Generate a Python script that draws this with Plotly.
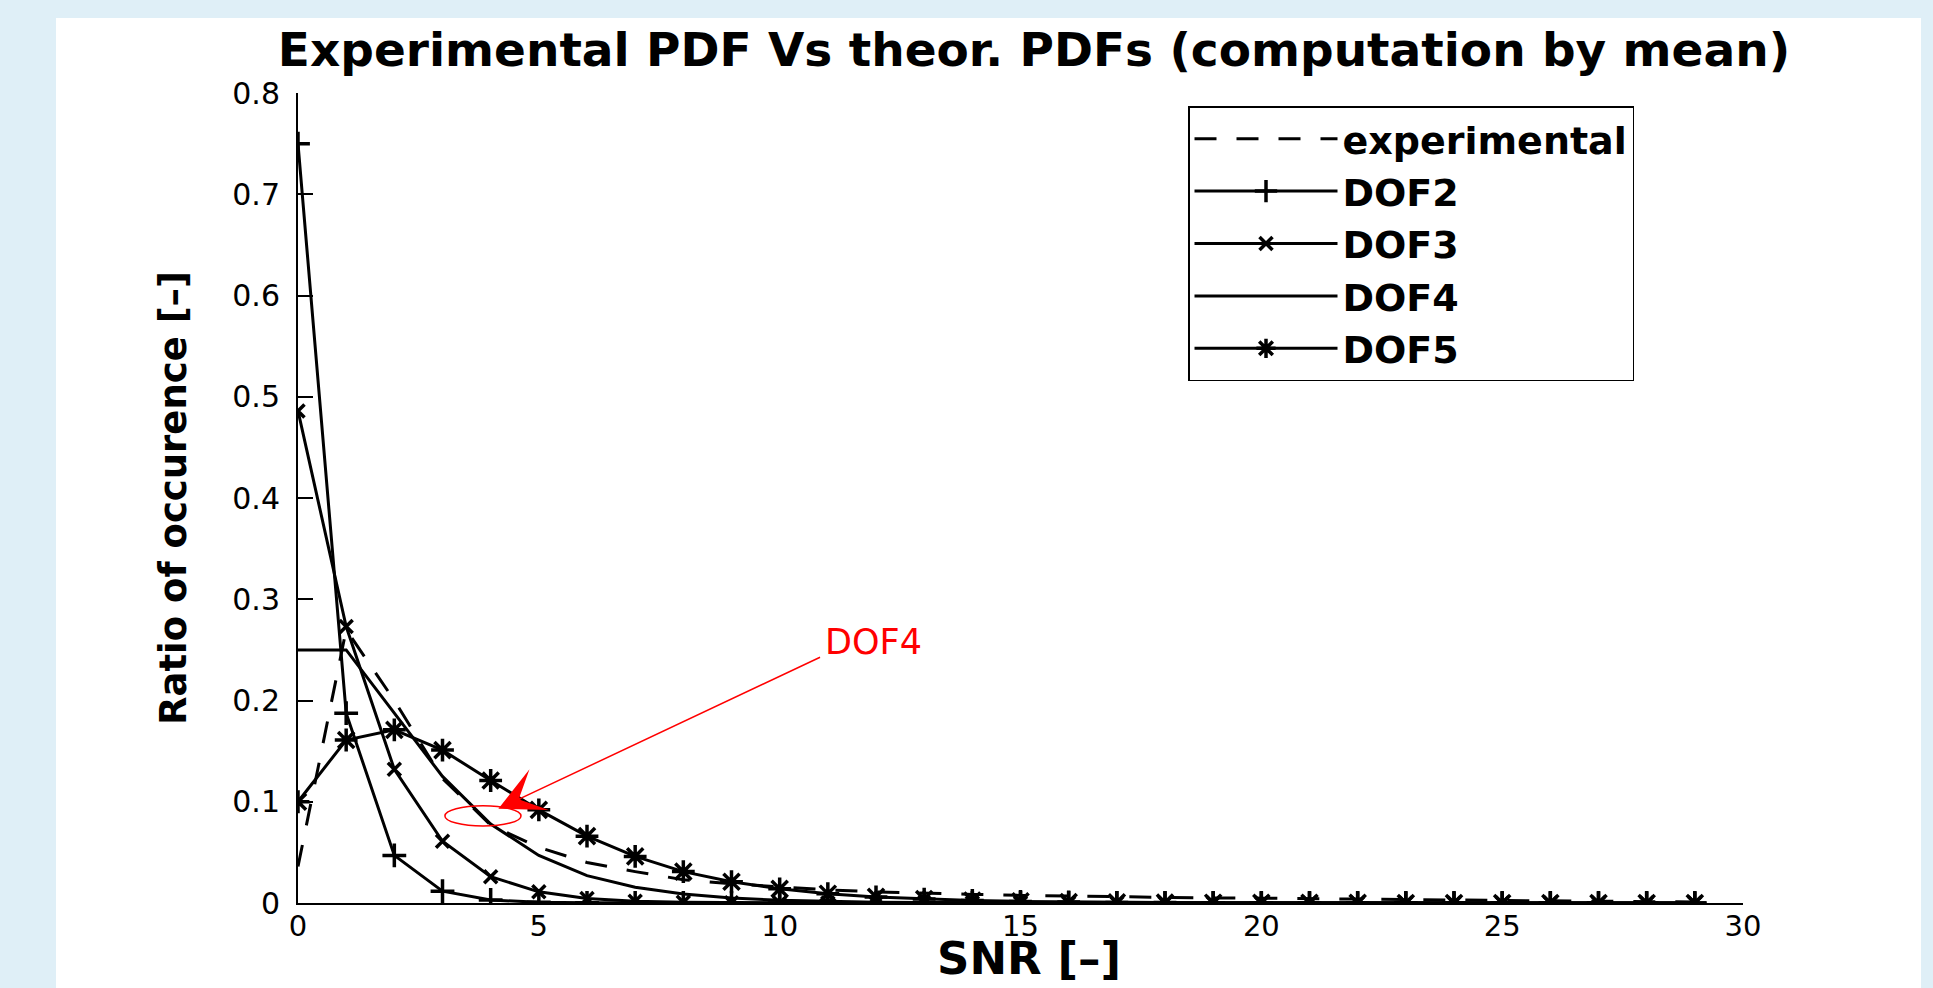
import plotly.graph_objects as go

# ---------------- data ----------------
snr = [0, 1, 2, 3, 4, 5, 6, 7, 8, 9, 10, 11, 12, 13, 14,
       15, 16, 17, 18, 19, 20, 21, 22, 23, 24, 25, 26, 27, 28, 29]

experimental = [0.036, 0.270, 0.200, 0.123, 0.077, 0.055, 0.040, 0.031, 0.023, 0.019,
                0.016, 0.013, 0.011, 0.0095, 0.0085, 0.0075, 0.0068, 0.0060, 0.0055, 0.0050,
                0.0048, 0.0045, 0.0040, 0.0035, 0.0030, 0.0025, 0.0020, 0.0015, 0.0010, 0.0010]

dof2 = [0.750, 0.1875, 0.047, 0.0117, 0.0030, 0.0007, 0.0002, 0.0, 0.0, 0.0,
        0.0, 0.0, 0.0, 0.0, 0.0, 0.0, 0.0, 0.0, 0.0, 0.0,
        0.0, 0.0, 0.0, 0.0, 0.0, 0.0, 0.0, 0.0, 0.0, 0.0]

dof3 = [0.486, 0.273, 0.132, 0.061, 0.026, 0.011, 0.0045, 0.0018, 0.0007, 0.0003,
        0.0001, 0.0, 0.0, 0.0, 0.0, 0.0, 0.0, 0.0, 0.0, 0.0,
        0.0, 0.0, 0.0, 0.0, 0.0, 0.0, 0.0, 0.0, 0.0, 0.0]

dof4 = [0.250, 0.250, 0.1875, 0.125, 0.078, 0.047, 0.027, 0.0156, 0.0088, 0.0049,
        0.0027, 0.0015, 0.0008, 0.0004, 0.0002, 0.0001, 0.0, 0.0, 0.0, 0.0,
        0.0, 0.0, 0.0, 0.0, 0.0, 0.0, 0.0, 0.0, 0.0, 0.0]

dof5 = [0.100, 0.161, 0.171, 0.151, 0.121, 0.092, 0.066, 0.046, 0.031, 0.021,
        0.014, 0.0092, 0.0060, 0.0039, 0.0025, 0.0016, 0.0010, 0.0006, 0.0004, 0.0003,
        0.0002, 0.0001, 0.0001, 0.0, 0.0, 0.0, 0.0, 0.0, 0.0, 0.0]

x_ticks = [0, 5, 10, 15, 20, 25, 30]
x_tick_text = ["0", "5", "10", "15", "20", "25", "30"]
y_ticks = [0, 0.1, 0.2, 0.3, 0.4, 0.5, 0.6, 0.7, 0.8]
y_tick_text = ["0", "0.1", "0.2", "0.3", "0.4", "0.5", "0.6", "0.7", "0.8"]

title_text = "Experimental PDF Vs theor. PDFs (computation by mean)"
x_title = "SNR [\u2013]"
y_title = "Ratio of occurence [\u2013]"

# annotation (ellipse around DOF4 curve + arrow + label)
ellipse_box = dict(x0=3.05, x1=4.63, y0=0.076, y1=0.096)
arrow_head = (4.16, 0.093)
arrow_tail = (10.87, 0.2434)
label_pos = (10.9, 0.258)

# ---------------- figure ----------------
FONT = "DejaVu Sans"
W, H = 1933, 988
L, R, T, B = 298, 190, 93, 85
pw, ph = W - L - R, H - T - B

fig = go.Figure()

line_w = 3
mk_w = 3.5
fig.add_trace(go.Scatter(
    x=snr, y=experimental, name="experimental", mode="lines",
    line=dict(color="black", width=line_w, dash="22px,20px")))
fig.add_trace(go.Scatter(
    x=snr, y=dof2, name="DOF2", mode="lines+markers",
    line=dict(color="black", width=line_w),
    marker=dict(symbol="cross-thin-open", size=17, color="black",
                line=dict(color="black", width=mk_w))))
fig.add_trace(go.Scatter(
    x=snr, y=dof3, name="DOF3", mode="lines+markers",
    line=dict(color="black", width=line_w),
    marker=dict(symbol="x-thin-open", size=13, color="black",
                line=dict(color="black", width=mk_w))))
fig.add_trace(go.Scatter(
    x=snr, y=dof4, name="DOF4", mode="lines",
    line=dict(color="black", width=line_w)))
fig.add_trace(go.Scatter(
    x=snr, y=dof5, name="DOF5", mode="lines+markers",
    line=dict(color="black", width=line_w),
    marker=dict(symbol="asterisk-open", size=19, color="black",
                line=dict(color="black", width=mk_w))))


def px_to_paper_x(px):
    return (px - L) / pw


def py_to_paper_y(py):
    return (H - B - py) / ph


shapes = [
    # white figure panel on the light-blue page
    dict(type="rect", xref="paper", yref="paper", layer="below",
         x0=px_to_paper_x(56), x1=px_to_paper_x(1921),
         y0=py_to_paper_y(990), y1=py_to_paper_y(18),
         fillcolor="white", line=dict(width=0)),
    dict(type="circle", xref="x", yref="y",
         x0=ellipse_box["x0"], x1=ellipse_box["x1"],
         y0=ellipse_box["y0"], y1=ellipse_box["y1"],
         line=dict(color="red", width=1.5)),
]

annotations = [
    dict(x=arrow_head[0], y=arrow_head[1], xref="x", yref="y",
         ax=arrow_tail[0], ay=arrow_tail[1], axref="x", ayref="y",
         text="", showarrow=True, arrowhead=3, arrowsize=5,
         arrowwidth=1.5, arrowcolor="red"),
    dict(x=label_pos[0], y=label_pos[1], xref="x", yref="y",
         text="DOF4", showarrow=False, xanchor="left", yanchor="middle",
         font=dict(family=FONT, size=35, color="red")),
    # x-axis title, at the bottom edge like the reference
    dict(x=px_to_paper_x(1029), y=py_to_paper_y(987), xref="paper", yref="paper",
         text=x_title, showarrow=False, xanchor="center", yanchor="bottom",
         font=dict(family=FONT, size=45, color="black", weight="bold")),
]

fig.update_layout(
    width=W, height=H,
    margin=dict(l=L, r=R, t=T, b=B, pad=0, autoexpand=False),
    paper_bgcolor="rgb(223,239,247)",
    plot_bgcolor="white",
    showlegend=True,
    title=dict(text=title_text, x=px_to_paper_x(1034), xref="paper", xanchor="center",
               y=1 - 50 / H, yref="container", yanchor="middle", automargin=False,
               font=dict(family=FONT, size=47, color="black", weight="bold")),
    legend=dict(x=px_to_paper_x(1188), y=py_to_paper_y(106), xanchor="left", yanchor="top",
                bgcolor="white", bordercolor="black", borderwidth=1.5,
                font=dict(family=FONT, size=38, color="black", weight="bold"),
                itemwidth=143, tracegroupgap=0),
    shapes=shapes,
    annotations=annotations,
    xaxis=dict(range=[0, 30], tickvals=x_ticks, ticktext=x_tick_text, automargin=False,
               ticks="inside", ticklen=10, tickwidth=1.5, tickcolor="black",
               showline=True, linecolor="black", linewidth=2, mirror=False,
               showgrid=False, zeroline=False, ticklabelstandoff=-4,
               tickfont=dict(family=FONT, size=29, color="black")),
    yaxis=dict(range=[0, 0.8], tickvals=y_ticks, ticktext=y_tick_text, automargin=False,
               ticks="inside", ticklen=15, tickwidth=1.5, tickcolor="black",
               showline=True, linecolor="black", linewidth=2, mirror=False,
               showgrid=False, zeroline=False, ticklabelstandoff=10,
               tickfont=dict(family=FONT, size=30, color="black"),
               title=dict(text=y_title, standoff=34,
                          font=dict(family=FONT, size=37, color="black", weight="bold"))),
)

fig.write_html("out.html")
